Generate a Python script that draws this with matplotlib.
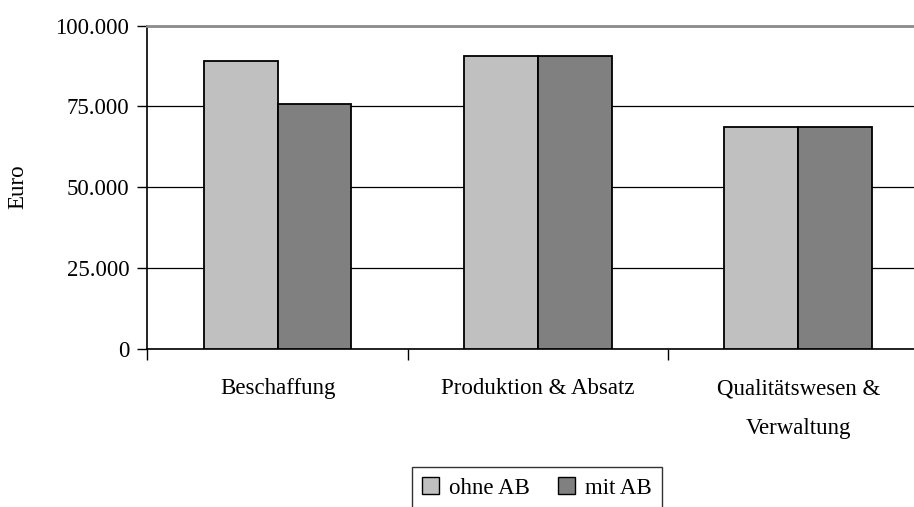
import matplotlib
matplotlib.use("Agg")
import matplotlib.pyplot as plt
import numpy as np
from matplotlib.ticker import FuncFormatter
from matplotlib.patches import Patch

categories = ["Beschaffung", "Produktion & Absatz", "Qualitätswesen &\nVerwaltung"]
series_names = ["ohne AB", "mit AB"]
ohne_ab = [89000, 90700, 68500]
mit_ab = [75900, 90700, 68500]
y_ticks = [0, 25000, 50000, 75000, 100000]

colors = ["#c0c0c0", "#808080"]
font = "Liberation Serif"
fs = 16.5

W, H = 914, 507
fig = plt.figure(figsize=(W / 100, H / 100), dpi=100)
left_px, right_px, top_px, bottom_px = 147.3, 928.5, 25.5, 349.3
ax = fig.add_axes([left_px / W, 1 - bottom_px / H,
                   (right_px - left_px) / W, (bottom_px - top_px) / H])

x = np.arange(len(categories))
bw = 0.284
for vals, col, off in [(ohne_ab, colors[0], -bw / 2), (mit_ab, colors[1], bw / 2)]:
    ax.bar(x + off, vals, width=bw, color=col, edgecolor="black",
           linewidth=1.3, zorder=3)

ax.set_xlim(-0.5, len(categories) - 0.5)
ax.set_ylim(0, 100000)
ax.set_yticks(y_ticks)
ax.yaxis.set_major_formatter(FuncFormatter(lambda v, p: f"{int(v):,}".replace(",", ".")))
ax.set_xticks(np.arange(len(categories) + 1) - 0.5)
ax.set_xticklabels([])
ax.set_xticks(x, minor=True)
ax.set_xticklabels(categories, minor=True, fontfamily=font, fontsize=fs,
                   linespacing=2.15)
ax.tick_params(axis="x", which="minor", length=0, pad=21)
ax.tick_params(axis="x", which="major", length=8, width=1, direction="out")
ax.tick_params(axis="y", length=7, width=1, direction="out", pad=6)
for lab in ax.get_yticklabels():
    lab.set_fontfamily(font)
    lab.set_fontsize(fs)

ax.yaxis.grid(True, color="black", linewidth=0.9, zorder=0)
ax.set_axisbelow(True)
ax.spines["top"].set_color("#8c8c8c")
ax.spines["top"].set_linewidth(2)
ax.spines["right"].set_visible(False)
ax.spines["left"].set_linewidth(1.2)
ax.spines["bottom"].set_linewidth(1.2)

fig.text(18 / W, 1 - 187 / H, "Euro", rotation=90, ha="center", va="center",
         fontfamily=font, fontsize=fs)

handles = [Patch(facecolor=c, edgecolor="black", linewidth=1) for c in colors]
leg = fig.legend(handles, series_names, loc="upper center",
                 bbox_to_anchor=(537 / W, 1 - 467 / H), ncol=2,
                 prop={"family": font, "size": fs}, frameon=True,
                 fancybox=False, edgecolor="black", handlelength=0.75,
                 handleheight=0.75, handletextpad=0.45, columnspacing=1.2,
                 borderpad=0.45, borderaxespad=0)
leg.get_frame().set_linewidth(1)

fig.savefig("out.png", dpi=100)
